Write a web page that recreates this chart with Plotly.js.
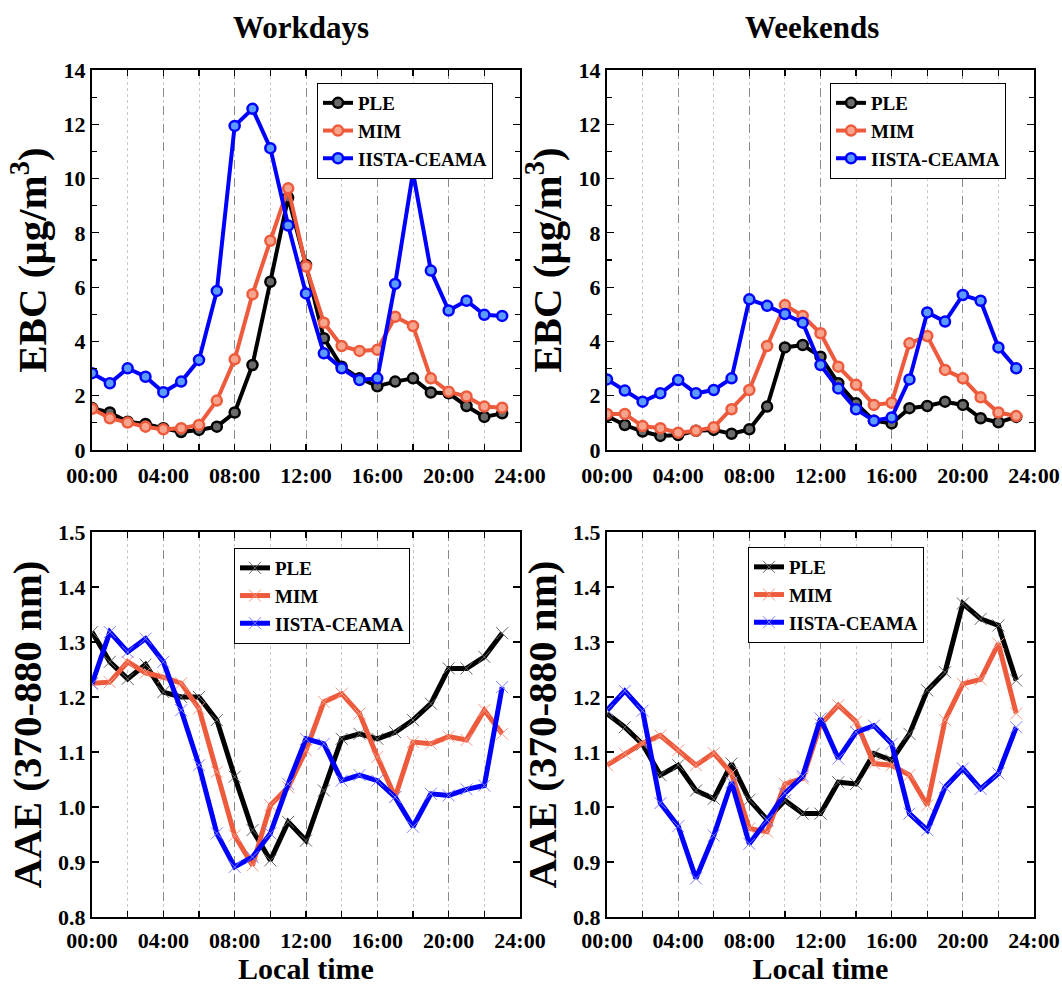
<!DOCTYPE html>
<html>
<head>
<meta charset="utf-8">
<script src="https://cdn.plot.ly/plotly-3.0.1.min.js"></script>
<style>html,body{margin:0;padding:0;background:#fff;}#chart{width:1062px;height:985px;}</style>
</head>
<body>
<div id="chart"></div>
<script>
// ---------- data ----------
const hours = [0,1,2,3,4,5,6,7,8,9,10,11,12,13,14,15,16,17,18,19,20,21,22,23];
const tickHours = [0,4,8,12,16,20,24];
const tickLabels = ["00:00","04:00","08:00","12:00","16:00","20:00","24:00"];
const seriesNames = ["PLE","MIM","IISTA-CEAMA"];

// EBC (µg/m3) workdays
const ebcWorkPLE  = [1.55,1.38,1.04,0.96,0.80,0.66,0.74,0.86,1.38,3.13,6.20,9.30,6.82,4.12,3.07,2.64,2.35,2.52,2.64,2.12,2.09,1.62,1.22,1.35];
const ebcWorkMIM  = [1.52,1.17,1.01,0.86,0.76,0.80,0.92,1.82,3.34,5.74,7.71,9.64,6.76,4.69,3.83,3.65,3.69,4.91,4.57,2.64,2.15,1.97,1.60,1.56];
const ebcWorkIIS  = [2.83,2.46,3.01,2.70,2.13,2.52,3.32,5.86,11.94,12.57,11.12,8.27,5.77,3.56,3.01,2.58,2.64,6.12,10.23,6.61,5.14,5.50,4.98,4.94];
// EBC (µg/m3) weekends
const ebcWkndPLE  = [1.25,0.92,0.68,0.52,0.55,0.71,0.74,0.60,0.76,1.60,3.78,3.87,3.44,2.46,1.72,1.08,0.98,1.54,1.62,1.78,1.66,1.17,1.02,1.22];
const ebcWkndMIM  = [1.33,1.33,0.88,0.80,0.64,0.71,0.84,1.50,2.21,3.83,5.34,4.94,4.30,3.07,2.40,1.66,1.74,3.93,4.20,2.95,2.64,1.94,1.38,1.25];
const ebcWkndIIS  = [2.60,2.19,1.78,2.09,2.58,2.09,2.21,2.64,5.55,5.31,5.01,4.69,3.13,2.27,1.50,1.08,1.20,2.60,5.07,4.73,5.71,5.50,3.78,3.01];
// AAE (370-880 nm) workdays
const aaeWorkPLE  = [1.318,1.264,1.233,1.259,1.209,1.200,1.200,1.158,1.055,0.958,0.903,0.973,0.939,1.030,1.124,1.133,1.124,1.136,1.158,1.188,1.252,1.252,1.273,1.316];
const aaeWorkMIM  = [1.225,1.227,1.264,1.244,1.236,1.225,1.179,1.064,0.948,0.894,1.003,1.036,1.103,1.191,1.206,1.170,1.091,1.018,1.118,1.115,1.128,1.122,1.176,1.133];
const aaeWorkIIS  = [1.224,1.318,1.282,1.306,1.264,1.176,1.076,0.952,0.891,0.909,0.952,1.042,1.124,1.115,1.048,1.058,1.048,1.018,0.964,1.024,1.021,1.032,1.039,1.218];
// AAE (370-880 nm) weekends
const aaeWkndPLE  = [1.170,1.145,1.114,1.058,1.076,1.030,1.015,1.079,1.013,0.977,1.012,0.988,0.988,1.045,1.042,1.097,1.085,1.133,1.212,1.245,1.370,1.342,1.330,1.230];
const aaeWkndMIM  = [1.076,1.097,1.116,1.130,1.103,1.076,1.098,1.061,0.961,0.955,1.042,1.052,1.150,1.185,1.155,1.079,1.076,1.058,1.003,1.158,1.224,1.232,1.297,1.170];
const aaeWkndIIS  = [1.176,1.211,1.175,1.007,0.965,0.870,0.948,1.045,0.933,0.976,1.025,1.056,1.161,1.088,1.136,1.148,1.115,0.988,0.958,1.036,1.070,1.033,1.061,1.145];

// ---------- styles ----------
const W = 1062, H = 985;
const FONT = "Times New Roman";
const lineColors = ["#000000", "#EE5A3C", "#0000FF"];
const dotFill    = ["#6a6a6a", "#F6A48C", "#5C9BFF"];
const crossColor = ["#666666", "#F39A86", "#7F7FFF"];

function px2x(a,b){ return [a/W, b/W]; }
function px2y(top,bottom){ return [1-bottom/H, 1-top/H]; }

const panels = [
  {ax:"",  data:[ebcWorkPLE, ebcWorkMIM, ebcWorkIIS], kind:"ebc", leg:"legend"},
  {ax:"2", data:[ebcWkndPLE, ebcWkndMIM, ebcWkndIIS], kind:"ebc", leg:"legend2"},
  {ax:"3", data:[aaeWorkPLE, aaeWorkMIM, aaeWorkIIS], kind:"aae", leg:"legend3"},
  {ax:"4", data:[aaeWkndPLE, aaeWkndMIM, aaeWkndIIS], kind:"aae", leg:"legend4"}
];

const traces = [];
panels.forEach(p => {
  p.data.forEach((vals, i) => {
    const t = {
      x: hours, y: vals, name: seriesNames[i], type: "scatter",
      xaxis: "x" + p.ax, yaxis: "y" + p.ax, legend: p.leg,
      line: {color: lineColors[i], width: p.kind === "ebc" ? 4 : 5},
      mode: "lines+markers"
    };
    if (p.kind === "ebc") {
      t.marker = {symbol: "circle", size: 10, color: dotFill[i], line: {color: lineColors[i], width: 2.5}};
    } else {
      t.marker = {symbol: "x-thin-open", size: 12, color: crossColor[i], line: {color: crossColor[i], width: 1}};
    }
    traces.push(t);
  });
});

const tickFont = {family: FONT, size: 22, color: "#000", weight: "bold"};
const titleFont = {family: FONT, size: 41, color: "#000", weight: "bold"};

function xaxis(dom, anchor, showTitle){
  const a = {
    domain: dom, anchor: anchor, range: [0, 24],
    tickmode: "array", tickvals: tickHours, ticktext: tickLabels,
    ticks: "inside", ticklen: 6, tickwidth: 1.2, tickcolor: "#000",
    showline: true, linecolor: "#000", linewidth: 2, mirror: "allticks",
    showgrid: true, gridcolor: "#8a8a8a", griddash: "dash", gridwidth: 1,
    minor: {dtick: 2, tick0: 0, ticks: "inside", ticklen: 6, tickcolor: "#000", showgrid: true, gridcolor: "#c8c8c8", griddash: "dot", gridwidth: 1},
    zeroline: false, tickfont: tickFont, automargin: false, ticklabelstandoff: showTitle ? 3 : 5
  };
  if (showTitle) a.title = {text: "Local time", font: {family: FONT, size: 30, color: "#000", weight: "bold"}, standoff: 19};
  return a;
}
function yaxis(dom, anchor, kind){
  const a = {
    domain: dom, anchor: anchor,
    ticks: "inside", ticklen: 7, tickwidth: 1.2, tickcolor: "#000",
    showline: true, linecolor: "#000", linewidth: 2, mirror: "allticks",
    showgrid: false, zeroline: false, tickfont: tickFont, automargin: false
  };
  if (kind === "ebc") {
    a.range = [0, 14]; a.tickvals = [0,2,4,6,8,10,12,14];
    a.minor = {dtick: 1, tick0: 0, ticks: "inside", ticklen: 5, tickcolor: "#000", showgrid: false};
    a.title = {text: "EBC (μg/m<sup>3</sup>)", font: titleFont, standoff: 4};
  } else {
    a.range = [0.8, 1.5]; a.tickvals = [0.8,0.9,1.0,1.1,1.2,1.3,1.4,1.5]; a.tickformat = ".1f";
    a.title = {text: "AAE (370-880 nm)", font: titleFont, standoff: 4};
  }
  return a;
}

const legendStyle = (xpx, ypx) => ({
  x: xpx / W, y: 1 - ypx / H, xanchor: "left", yanchor: "top",
  bgcolor: "#fff", bordercolor: "#000", borderwidth: 1,
  font: {family: FONT, size: 19, color: "#000", weight: "bold"},
  tracegroupgap: 0
});

const layout = {
  width: W, height: H, margin: {l: 0, r: 0, t: 0, b: 0},
  paper_bgcolor: "#fff", plot_bgcolor: "#fff", showlegend: true,
  font: {family: FONT},
  xaxis:  xaxis(px2x(92, 520), "y", false),
  yaxis:  yaxis(px2y(70, 450), "x", "ebc"),
  xaxis2: xaxis(px2x(607, 1034), "y2", false),
  yaxis2: yaxis(px2y(70, 450), "x2", "ebc"),
  xaxis3: xaxis(px2x(92, 520), "y3", true),
  yaxis3: yaxis(px2y(532, 917), "x3", "aae"),
  xaxis4: xaxis(px2x(607, 1034), "y4", true),
  yaxis4: yaxis(px2y(532, 917), "x4", "aae"),
  legend:  legendStyle(317, 83),
  legend2: legendStyle(830, 83),
  legend3: legendStyle(234, 548),
  legend4: legendStyle(748, 547),
  annotations: [
    {text: "Workdays", x: 301/W, y: 1 - 28/H, xref: "paper", yref: "paper", showarrow: false, xanchor: "center", yanchor: "middle",
     font: {family: FONT, size: 31, color: "#000", weight: "bold"}},
    {text: "Weekends", x: 812/W, y: 1 - 28/H, xref: "paper", yref: "paper", showarrow: false, xanchor: "center", yanchor: "middle",
     font: {family: FONT, size: 31, color: "#000", weight: "bold"}}
  ]
};

Plotly.newPlot("chart", traces, layout, {displayModeBar: false, staticPlot: true});
</script>
</body>
</html>
